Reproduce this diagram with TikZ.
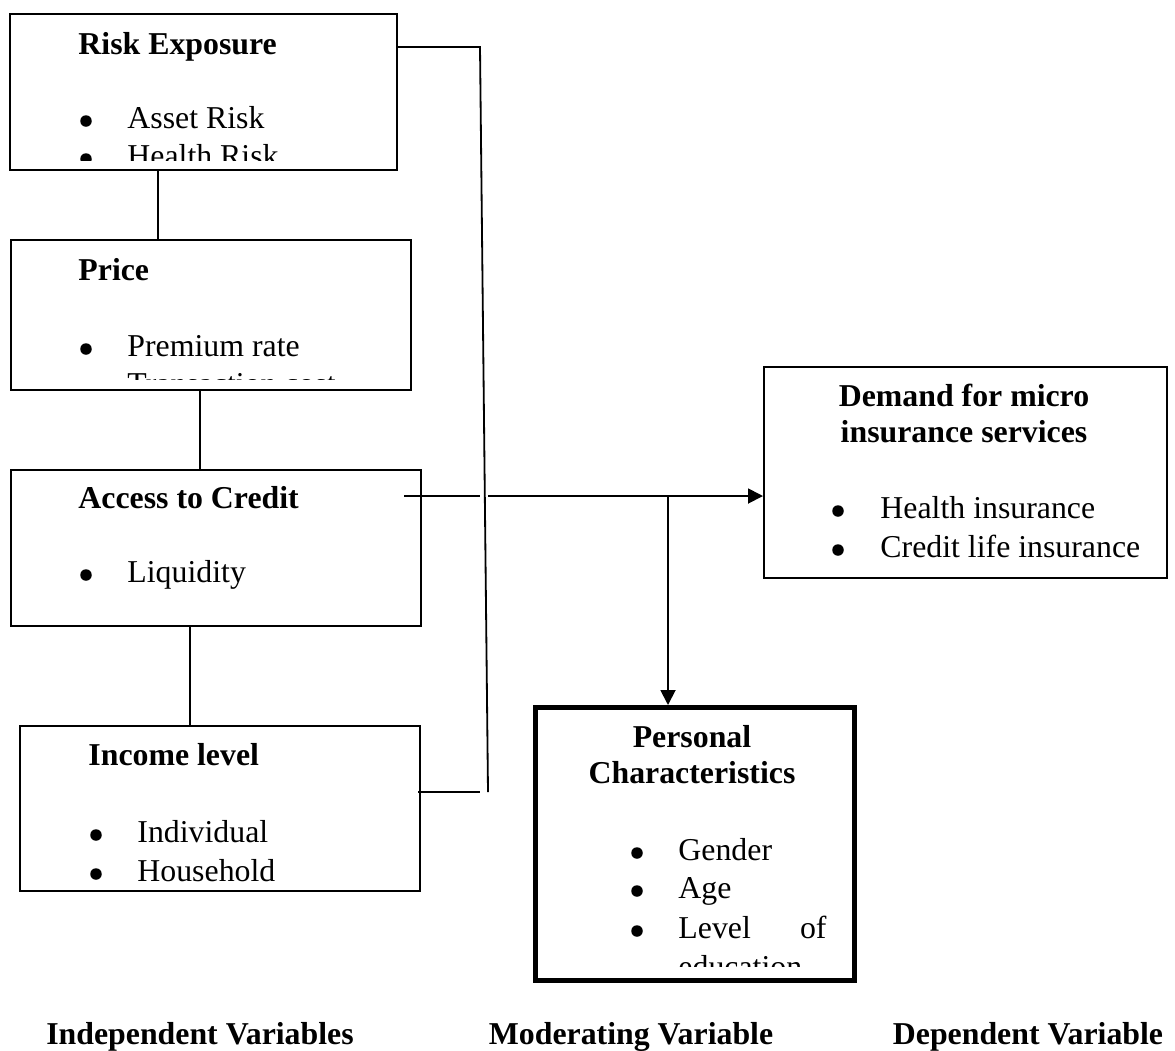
\documentclass[tikz,border=0pt]{standalone}
\usepackage{fontspec}
\setmainfont{Liberation Serif}
\usepackage{tikz}
\usetikzlibrary{arrows.meta, positioning, calc}
\newcommand{\pxu}{0.44pt}

\begin{document}
\begin{tikzpicture}[
    x=0.44pt, y=-0.44pt,
    box/.style={
      rectangle, draw=black, line width=0.9pt,
      anchor=north west, inner sep=0pt
    },
    thickbox/.style={
      box, line width=2.2pt
    },
    head/.style={
      inner sep=0pt, anchor=base west,
      font=\fontsize{14}{16}\selectfont\bfseries
    },
    headc/.style={
      inner sep=0pt, anchor=base,
      font=\fontsize{14}{16}\selectfont\bfseries
    },
    item/.style={
      inner sep=0pt, anchor=base west,
      font=\fontsize{14}{16}\selectfont
    },
    dot/.style={
      circle, fill=black, inner sep=0pt, minimum size=11.5*\pxu
    },
    foot/.style={
      inner sep=0pt, anchor=base,
      font=\fontsize{14}{16}\selectfont\bfseries
    },
    conn/.style={
      draw=black, line width=0.8pt
    },
    arr/.style={
      conn, -{Triangle[length=6.6pt, width=6.6pt]}
    }
  ]

  \useasboundingbox (0,0) rectangle (1175,1050);

  % ---- Boxes ----
  \node[box, minimum width=387*\pxu, minimum height=156*\pxu] (risk)    at (9,13)    {};
  \node[box, minimum width=400*\pxu, minimum height=150*\pxu] (price)   at (10,239)  {};
  \node[box, minimum width=410*\pxu, minimum height=156*\pxu] (access)  at (10,469)  {};
  \node[box, minimum width=400*\pxu, minimum height=165*\pxu] (income)  at (19,725)  {};
  \node[box, minimum width=403*\pxu, minimum height=211*\pxu] (demand)  at (763,366) {};
  \node[thickbox, minimum width=319*\pxu, minimum height=273*\pxu] (personal) at (533,705) {};

  % ---- Risk Exposure ----
  \begin{scope}
    \clip (risk.north west) rectangle (396,160);
    \node[head] (riskhd) at (78,54) {Risk Exposure};
    \node[dot]  (rd1) at (86,121) {};
    \node[item] (ri1) at (127,128) {Asset Risk};
    \node[dot]  (rd2) at (86,159) {};
    \node[item] (ri2) at (127,166) {Health Risk};
  \end{scope}

  % ---- Price ----
  \begin{scope}
    \clip (price.north west) rectangle (410,379);
    \node[head] (pricehd) at (78,280) {Price};
    \node[dot]  (pd1) at (86,349) {};
    \node[item] (pi1) at (127,356) {Premium rate};
    \node[item] (pi2) at (127,394) {Transaction cost};
  \end{scope}

  % ---- Access to Credit ----
  \node[head] (accesshd) at (78,508) {Access to Credit};
  \node[dot]  (ad1) at (86,575) {};
  \node[item] (ai1) at (127,582) {Liquidity};

  % ---- Income level ----
  \begin{scope}
    \clip (income.north west) rectangle (419,881);
    \node[head] (incomehd) at (88,765) {Income level};
    \node[dot]  (id1) at (96,835) {};
    \node[item] (ii1) at (137,842) {Individual};
    \node[dot]  (id2) at (96,874) {};
    \node[item] (ii2) at (137,881) {Household};
  \end{scope}

  % ---- Demand ----
  \node[headc] (demandhd1) at (964,406) {Demand for micro};
  \node[headc] (demandhd2) at (964,442) {insurance services};
  \node[dot]  (dd1) at (838,511) {};
  \node[item] (di1) at (880,518) {Health insurance};
  \node[dot]  (dd2) at (838,550) {};
  \node[item] (di2) at (880,557) {Credit life insurance};

  % ---- Personal Characteristics ----
  \begin{scope}
    \clip (personal.north west) rectangle (852,966);
    \node[headc] (personalhd1) at (692,747) {Personal};
    \node[headc] (personalhd2) at (692,783) {Characteristics};
    \node[dot]  (cd1) at (637,853) {};
    \node[item] (ci1) at (678,860) {Gender};
    \node[dot]  (cd2) at (637,891) {};
    \node[item] (ci2) at (678,898) {Age};
    \node[dot]  (cd3) at (637,931) {};
    \node[item] (ci3) at (678,938) {Level};
    \node[item, anchor=base east] (ci3b) at (827,938) {of};
    \node[item] (ci4) at (678,977) {education};
  \end{scope}

  % ---- Connectors ----
  \coordinate (bartop) at (480,47);
  \coordinate (barbot) at (488,792);
  \coordinate (fork)   at (668,496);

  \draw[conn] ([xshift=149*\pxu]risk.south west) coordinate (rp) -- (rp |- price.north);
  \draw[conn] ([xshift=190*\pxu]price.south west) coordinate (pa) -- (pa |- access.north);
  \draw[conn] ([xshift=180*\pxu]access.south west) coordinate (ai) -- (ai |- income.north);

  \draw[conn] (risk.east |- bartop) -- (bartop) -- (barbot);
  \draw[conn] ([xshift=-3*\pxu]income.east |- barbot) -- ([xshift=-8*\pxu]barbot);

  \draw[conn] ([xshift=-18*\pxu]access.east |- fork) -- (bartop |- fork);
  \draw[arr]  ([xshift=8*\pxu]bartop |- fork) -- (demand.west |- fork);
  \draw[arr]  (fork) -- (personal.north -| fork);

  % ---- Footer labels ----
  \node[foot] (indep) at (200,1044) {Independent Variables};
  \node[foot] (moder) at (631,1044) {Moderating Variable};
  \node[foot] (depen) at (1028,1044) {Dependent Variable};

\end{tikzpicture}
\end{document}
